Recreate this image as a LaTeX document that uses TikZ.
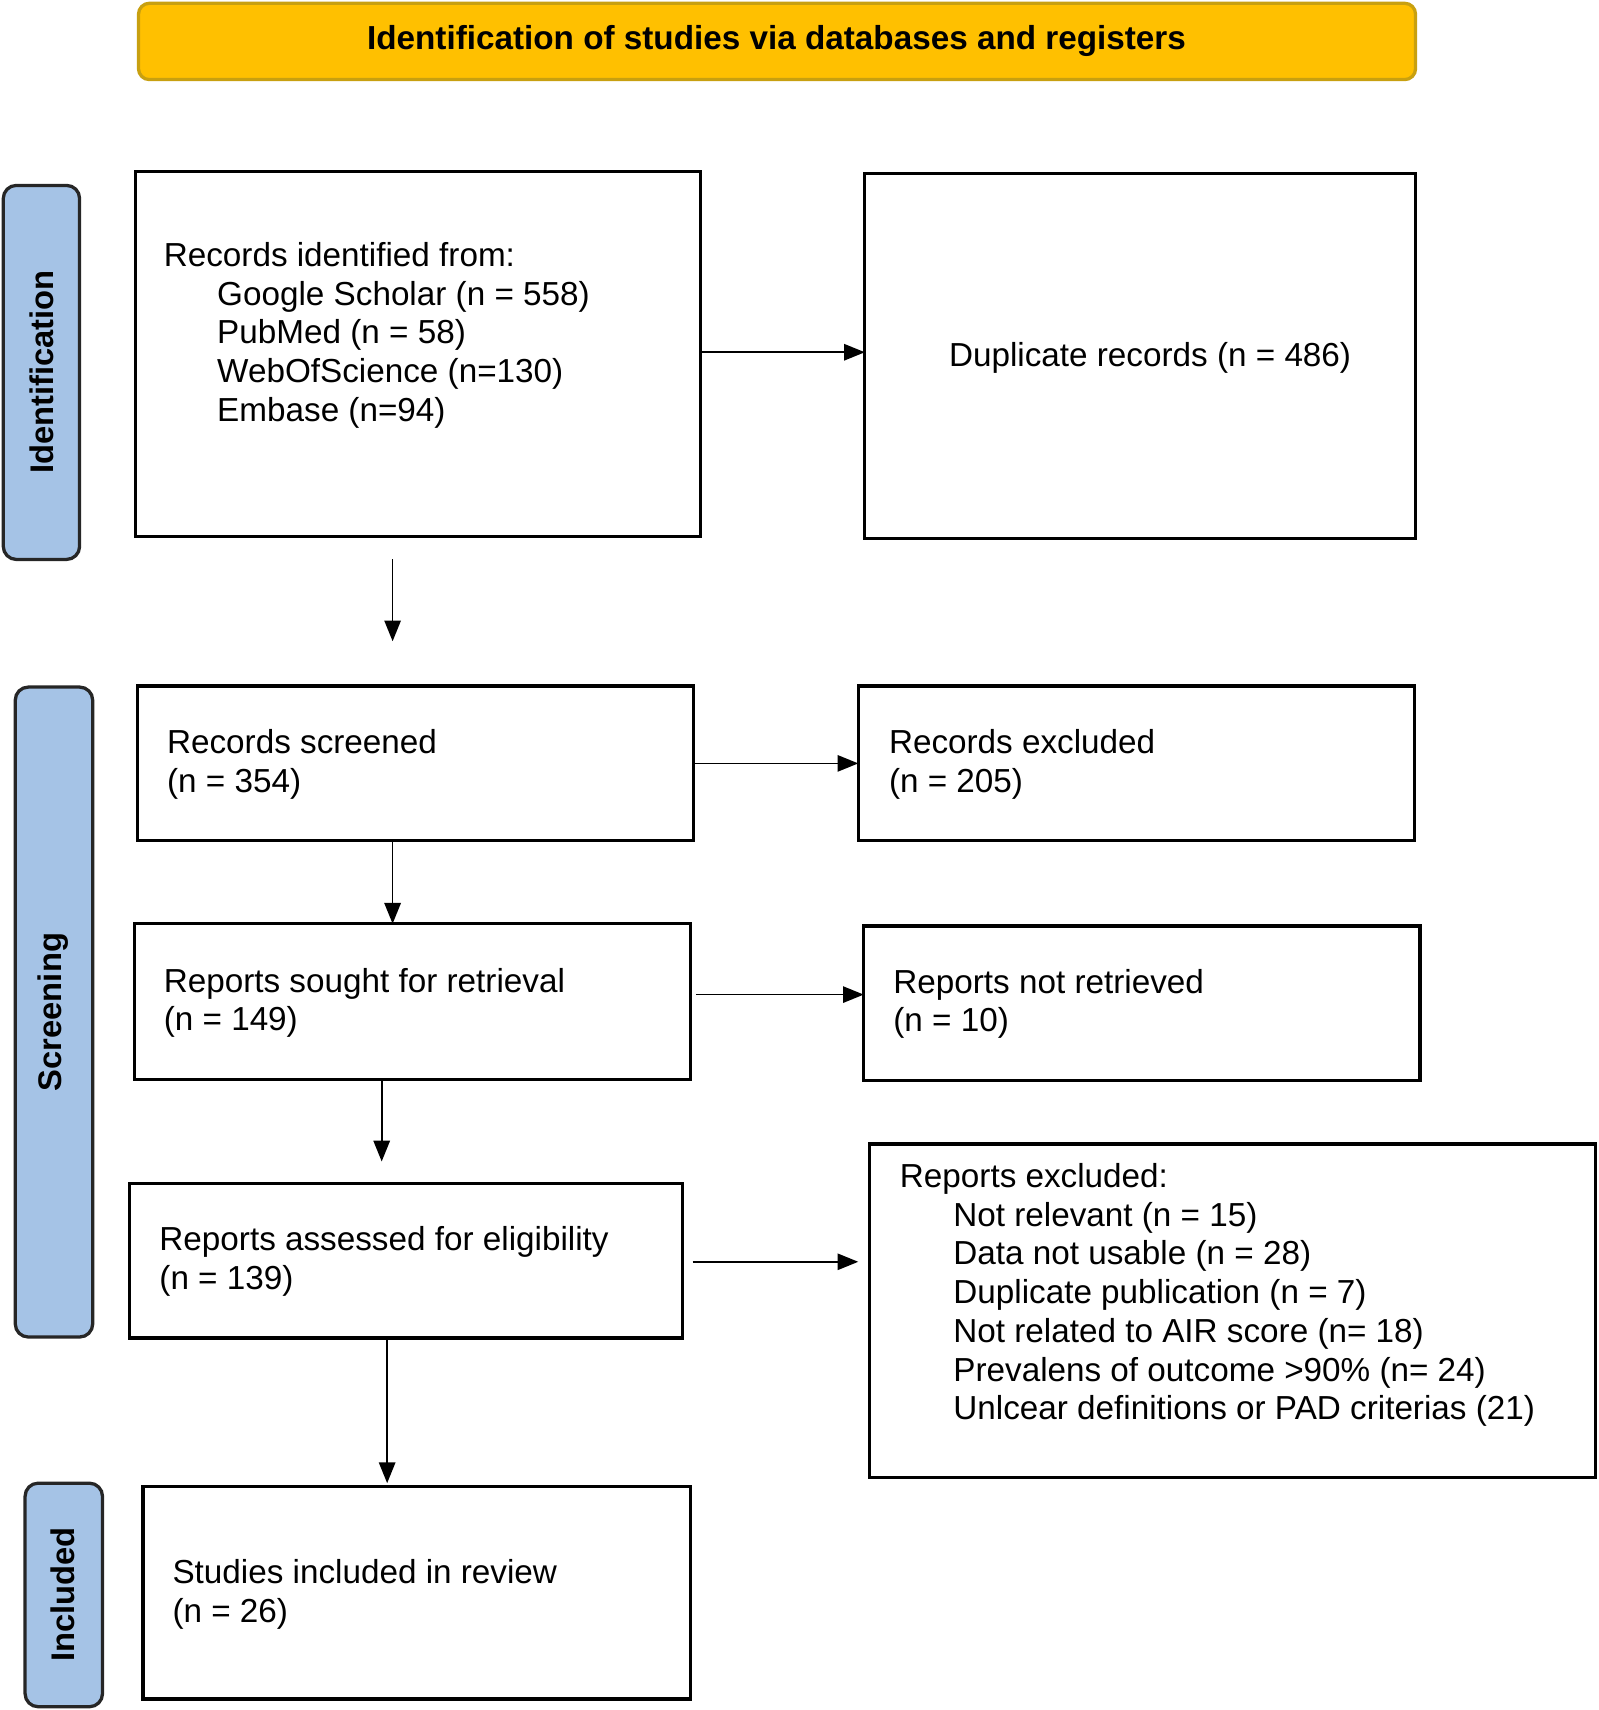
\documentclass[tikz,border=0pt]{standalone}
\usepackage{fontspec}
\setmainfont{Liberation Sans}
\usetikzlibrary{arrows.meta}
\definecolor{hdr}{HTML}{FFC000}
\definecolor{hdrline}{HTML}{C8A010}
\definecolor{side}{HTML}{A5C3E6}
\tikzset{
  box/.style={draw=black,line width=3pt},
  sidebox/.style={draw=black!85,fill=side,line width=3pt,rounded corners=12pt},
  txt/.style={anchor=west,align=left,inner sep=0pt,font=\fontsize{30.5}{35.5}\selectfont},
  sidetxt/.style={rotate=90,font=\bfseries\fontsize{30}{32}\selectfont,inner sep=0pt},
  arr/.style={line width=1.6pt,-{Triangle[length=19pt,width=15pt]}}
}
\begin{document}
\begin{tikzpicture}[x=1pt,y=-1pt]
\useasboundingbox (0,0) rectangle (1466,1568);
% header
\draw[fill=hdr,draw=hdrline,line width=3pt,rounded corners=10pt] (127,3) rectangle (1298,73);
\node[font=\bfseries\fontsize{30.5}{32}\selectfont] (hdr) at (712,38) {Identification of studies via databases and registers};
% side labels
\draw[sidebox] (3,170) rectangle (73,513);
\node[sidetxt] (sid) at (38,341) {Identification};
\draw[sidebox] (14,630) rectangle (85,1226);
\node[sidetxt] (sscr) at (49,928) {Screening};
\draw[sidebox] (23,1360) rectangle (94,1565);
\node[sidetxt] (sinc) at (58,1462) {Included};
% boxes
\draw[box] (124,157) rectangle (642,492);
\node[txt] (t1) at (150,307.5) {Records identified from:\\\hspace*{49pt}Google Scholar (n = 558)\\\hspace*{49pt}PubMed (n = 58)\\\hspace*{49pt}WebOfScience (n=130)\\\hspace*{49pt}Embase (n=94)};
\draw[box] (793,159) rectangle (1298,494);
\node[txt] (t2) at (870,328) {Duplicate records (n = 486)};
\draw[box] (126,629) rectangle (636,771);
\node[txt] (t3) at (153,701) {Records screened\\(n = 354)};
\draw[box] (787,629) rectangle (1297,771);
\node[txt] (t4) at (815,701) {Records excluded\\(n = 205)};
\draw[box] (123,847) rectangle (633,990);
\node[txt] (t5) at (150,919.5) {Reports sought for retrieval\\(n = 149)};
\draw[box] (792,849) rectangle (1302,991);
\node[txt] (t6) at (819,920.5) {Reports not retrieved\\(n = 10)};
\draw[box] (119,1085) rectangle (626,1227);
\node[txt] (t7) at (146,1156.5) {Reports assessed for eligibility\\(n = 139)};
\draw[box] (797,1049) rectangle (1463,1355);
\node[txt] (t8) at (825,1187.5) {Reports excluded:\\\hspace*{49pt}Not relevant (n = 15)\\\hspace*{49pt}Data not usable (n = 28)\\\hspace*{49pt}Duplicate publication (n = 7)\\\hspace*{49pt}Not related to AIR score (n= 18)\\\hspace*{49pt}Prevalens of outcome >90\% (n= 24)\\\hspace*{49pt}Unlcear definitions or PAD criterias (21)};
\draw[box] (131,1363) rectangle (633,1558);
\node[txt] (t9) at (158,1462) {Studies included in review\\(n = 26)};
% arrows
\coordinate (a1) at (642,323); \coordinate (b1) at (793,323);
\coordinate (a2) at (360,513); \coordinate (b2) at (360,588);
\coordinate (a3) at (636,700); \coordinate (b3) at (787,700);
\coordinate (a4) at (360,771); \coordinate (b4) at (360,847);
\coordinate (a5) at (638,912); \coordinate (b5) at (792,912);
\coordinate (a6) at (350,990); \coordinate (b6) at (350,1065);
\coordinate (a7) at (635,1157); \coordinate (b7) at (787,1157);
\coordinate (a8) at (355,1227); \coordinate (b8) at (355,1360);
\foreach \i in {1,...,8} {\draw[arr] (a\i) -- (b\i);}
\end{tikzpicture}
\end{document}
